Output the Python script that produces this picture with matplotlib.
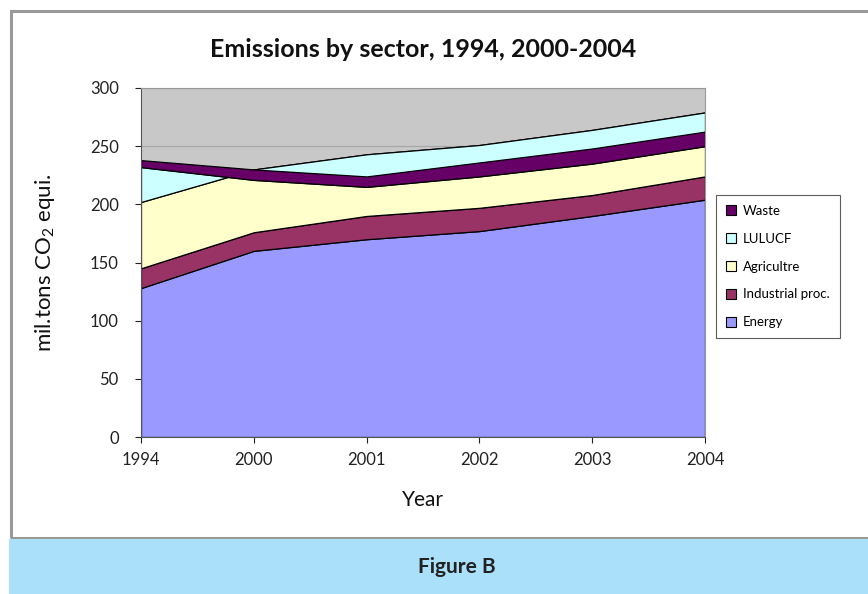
import matplotlib.pyplot as plt
import numpy as np
from matplotlib.patches import Patch, Rectangle

plt.rcParams['font.family'] = ['Lato', 'DejaVu Sans']
plt.rcParams['mathtext.default'] = 'regular'

years = ['1994', '2000', '2001', '2002', '2003', '2004']

# emissions per sector, mil. tons CO2 equivalent (LULUCF turns into a sink after 1994)
energy = [128, 160, 170, 177, 190, 204]
industrial = [17, 16, 20, 20, 18, 20]
agriculture = [57, 54, 53, 54, 56, 55]
lulucf = [30, -9, -28, -27, -29, -29]
waste = [6, 9, 9, 12, 13, 12.5]

sectors = ['Energy', 'Industrial proc.', 'Agricultre', 'LULUCF', 'Waste']
series = [energy, industrial, agriculture, lulucf, waste]
colors = ['#9999FF', '#993366', '#FFFFCC', '#CCFFFF', '#660066']

W, H = 868, 594
fig = plt.figure(figsize=(W / 100, H / 100), dpi=100)

def fx(px):
    return px / W

def fy(py):
    return 1 - py / H

# outer frame and caption band
fig.patches.append(Rectangle((fx(11), fy(538)), fx(870) - fx(11), fy(11) - fy(538),
                             transform=fig.transFigure, fill=False,
                             edgecolor='#999999', linewidth=2.2))
fig.patches.append(Rectangle((fx(9), 0), 1 - fx(9), fy(539),
                             transform=fig.transFigure, facecolor='#AAE0FA',
                             edgecolor='none'))
fig.text(fx(457), fy(567), 'Figure B', ha='center', va='center',
         fontsize=15, fontweight='bold', color='#222222')

ax = fig.add_axes([fx(141), fy(437), fx(705) - fx(141), fy(88) - fy(437)])
ax.set_facecolor('#C8C8C8')

x = np.arange(len(years))
bottom = np.zeros(len(years))
for vals, col in zip(series, colors):
    top = bottom + np.array(vals, dtype=float)
    ax.fill_between(x, bottom, top, facecolor=col, edgecolor='black',
                    linewidth=0.9, zorder=2)
    bottom = top

ax.set_xlim(0, len(years) - 1)
ax.set_ylim(0, 300)
ax.set_yticks(np.arange(0, 301, 50))
ax.set_xticks(x)
ax.set_xticklabels(years)
ax.yaxis.grid(True, color='#A8A8A8', linewidth=0.9, zorder=1)
ax.set_axisbelow(True)
ax.tick_params(labelsize=12, colors='#222222', length=4, width=0.8)
ax.tick_params(axis='x', pad=7)
ax.tick_params(axis='y', pad=12)
for side in ['left', 'bottom']:
    ax.spines[side].set_color('#555555')
for side in ['top', 'right']:
    ax.spines[side].set_color('#999999')

ax.set_title('Emissions by sector, 1994, 2000-2004', fontsize=18,
             fontweight='bold', pad=22, color='#111111')
ax.set_xlabel('Year', fontsize=15, labelpad=16, color='#111111')
ax.set_ylabel('mil.tons CO$_2$ equi.', fontsize=16, labelpad=24, color='#111111')

handles = [Patch(facecolor=c, edgecolor='black', linewidth=0.8)
           for c in colors][::-1]
leg = fig.legend(handles, sectors[::-1], loc='upper left',
                 bbox_to_anchor=(fx(716), fy(195)), fontsize=9.5,
                 frameon=True, fancybox=False, edgecolor='#333333',
                 handlelength=0.8, handleheight=0.8, handletextpad=0.5,
                 labelspacing=1.2, borderpad=0.75, borderaxespad=0)
leg.get_frame().set_linewidth(0.8)

fig.savefig('out.png', dpi=100)
